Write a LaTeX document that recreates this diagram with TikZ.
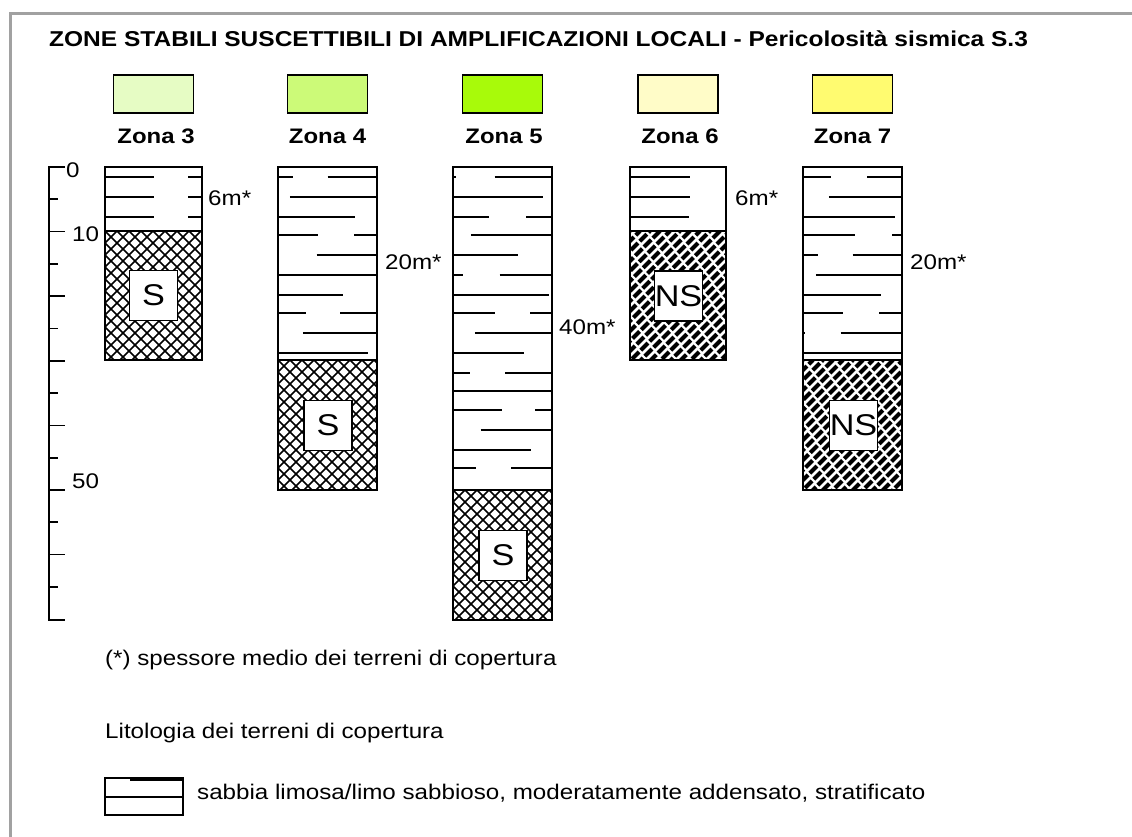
\documentclass[tikz,border=0pt]{standalone}
\usepackage{fontspec}
\setmainfont{Liberation Sans}[FakeStretch=1.14]
\newcommand\strata[3]{%
  \foreach \yy/\aa/\bb in {#3} \draw[strat] ({#1+\aa*#2},\yy) -- ({#1+\bb*#2},\yy);}
\newcommand\xhatch[4]{%
  \begin{scope}
    \clip (#1,#2) rectangle ({#1+#3},#4);
    \foreach \k in {-12,...,20} {%
      \draw[hl] ({#1+\k*12},#2) -- ++(150,150);
      \draw[hl] ({#1+\k*12},#2) -- ++(-150,150);}
  \end{scope}}
\newcommand\nshatch[4]{%
  \begin{scope}
    \clip (#1,#2) rectangle ({#1+#3},#4);
    \foreach \k [evaluate=\k as \ph using {mod(\k+30,3)*4}] in {0,...,26}
      \draw[nsl, dash phase=\ph pt] ({#1+\k*10},#2) -- ++(-150,150);
  \end{scope}}
\begin{document}
\begin{tikzpicture}[x=1pt,y=-1pt,
  strat/.style={line width=1.6pt},
  hl/.style={line width=1.5pt},
  nsl/.style={line width=4.2pt, dash pattern=on 10pt off 2.5pt},
  colbox/.style={draw, line width=1.7pt},
  swatch/.style={draw, line width=1.7pt, minimum width=80pt, minimum height=38pt, inner sep=0pt},
  zlabel/.style={font=\fontsize{21}{24}\selectfont\bfseries, anchor=base, inner sep=0pt},
  dlabel/.style={font=\fontsize{21.2}{24}\selectfont, anchor=west, inner sep=0pt},
  snum/.style={font=\fontsize{21.2}{24}\selectfont, anchor=west, inner sep=0pt},
  sbox/.style={draw, line width=1.5pt, fill=white, minimum width=48pt, minimum height=50pt, inner sep=0pt, font=\fontsize{30}{32}\selectfont},
  txt/.style={font=\fontsize{21.2}{24}\selectfont, anchor=base west, inner sep=0pt}]
\useasboundingbox (0,0) rectangle (1132,837);
\fill[white] (0,0) rectangle (1132,837);
% frame
\draw[line width=3pt, color=black!37] (10,837) -- (10,14) -- (1132,14);
% title
\node[anchor=base west, inner sep=0pt, font=\fontsize{21.5}{24}\selectfont\bfseries] (title) at (49,47)
  {ZONE STABILI SUSCETTIBILI DI AMPLIFICAZIONI LOCALI - Pericolosità sismica S.3};
% swatches
\definecolor{z3}{HTML}{E6FCC4}
\definecolor{z4}{HTML}{CCFA78}
\definecolor{z5}{HTML}{A8FA0A}
\definecolor{z6}{HTML}{FFFCC8}
\definecolor{z7}{HTML}{FFFB70}
\node[swatch, fill=z3] (sw3) at (153.5,94) {};
\node[swatch, fill=z4] (sw4) at (327.5,94) {};
\node[swatch, fill=z5] (sw5) at (502.5,94) {};
\node[swatch, fill=z6] (sw6) at (678,94) {};
\node[swatch, fill=z7] (sw7) at (852.5,94) {};
\node[zlabel] (l3) at (156,144) {Zona 3};
\node[zlabel] (l4) at (327.5,144) {Zona 4};
\node[zlabel] (l5) at (504,144) {Zona 5};
\node[zlabel] (l6) at (680,144) {Zona 6};
\node[zlabel] (l7) at (852.5,144) {Zona 7};
% depth scale
\draw[line width=1.7pt] (65,167) -- (49,167) -- (49,620) -- (65,620);
\foreach \d in {5,15,...,65} \draw[line width=1.7pt] (49,{167+\d*6.46}) -- ++(9,0);
\foreach \d in {10,20,...,60} \draw[line width=1.7pt] (49,{167+\d*6.46}) -- ++(16,0);
\node[snum] (n0) at (66,170) {0};
\node[snum] (n10) at (72,234) {10};
\node[snum] (n50) at (72,481) {50};
% Zona 3
\strata{105}{97}{177/0/.5, 177/.86/1, 197/0/.5, 197/.86/1, 217/0/.5, 217/.86/1}
\xhatch{105}{231}{97}{360}
\draw[colbox] (105,231) -- (202,231);
\draw[colbox] (105,167) rectangle (202,360);
\node[sbox] (s3) at (153.5,295.5) {S};
\node[dlabel] (d3) at (208,198) {6m*};
% Zona 4
\strata{278}{99}{177/0/.15, 177/.5/1, 197/.12/1, 217/0/.78, 235/0/.4, 235/.77/1, 255/.39/1, 275/0/1, 295/0/.66, 313/0/.28, 313/.63/1, 333/.25/1, 353/0/.91}
\xhatch{278}{360}{99}{490}
\draw[colbox] (278,360) -- (377,360);
\draw[colbox] (278,167) rectangle (377,490);
\node[sbox] (s4) at (328,425.5) {S};
\node[dlabel] (d4) at (385,262) {20m*};
% Zona 5
\strata{453}{99}{177/0/.03, 177/.42/1, 197/0/.91, 217/0/.36, 217/.74/1, 235/.18/1, 255/0/.66, 275/0/.1, 275/.47/1, 295/0/.97, 313/0/.42, 313/.78/1, 333/.22/1, 353/0/.72, 373/0/.17, 373/.53/1, 391/0/1, 410/0/.49, 410/.83/1, 430/.28/1, 450/0/.79, 468/0/.23, 468/.59/1}
\xhatch{453}{490}{99}{620}
\draw[colbox] (453,490) -- (552,490);
\draw[colbox] (453,167) rectangle (552,620);
\node[sbox] (s5) at (503,555.5) {S};
\node[dlabel] (d5) at (559,327) {40m*};
% Zona 6
\strata{630}{96}{177/0/.63, 197/0/.63, 217/0/.61}
\nshatch{630}{231}{96}{360}
\draw[colbox] (630,231) -- (726,231);
\draw[colbox] (630,167) rectangle (726,360);
\node[sbox] (s6) at (678.5,296) {NS};
\node[dlabel] (d6) at (735,198) {6m*};
% Zona 7
\strata{803}{99}{177/0/.28, 177/.65/1, 197/.26/1, 217/0/.93, 235/0/.53, 235/.9/1, 255/0/.15, 255/.5/1, 275/.13/1, 295/0/.79, 313/0/.4, 313/.77/1, 333/0/.02, 333/.38/1, 353/0/1}
\nshatch{803}{360}{99}{490}
\draw[colbox] (803,360) -- (902,360);
\draw[colbox] (803,167) rectangle (902,490);
\node[sbox] (s7) at (853.5,425.5) {NS};
\node[dlabel] (d7) at (910,262) {20m*};
% legend
\node[txt] (note) at (105,665) {(*) spessore medio dei terreni di copertura};
\node[txt] (lito) at (105,738) {Litologia dei terreni di copertura};
\draw[line width=1.5pt] (105,778) rectangle (183,815);
\draw[line width=1.5pt] (105,797) -- (183,797);
\draw[line width=3pt] (130,779) -- (183,779);
\node[txt] (sab) at (197,799) {sabbia limosa/limo sabbioso, moderatamente addensato, stratificato};
\end{tikzpicture}
\end{document}
